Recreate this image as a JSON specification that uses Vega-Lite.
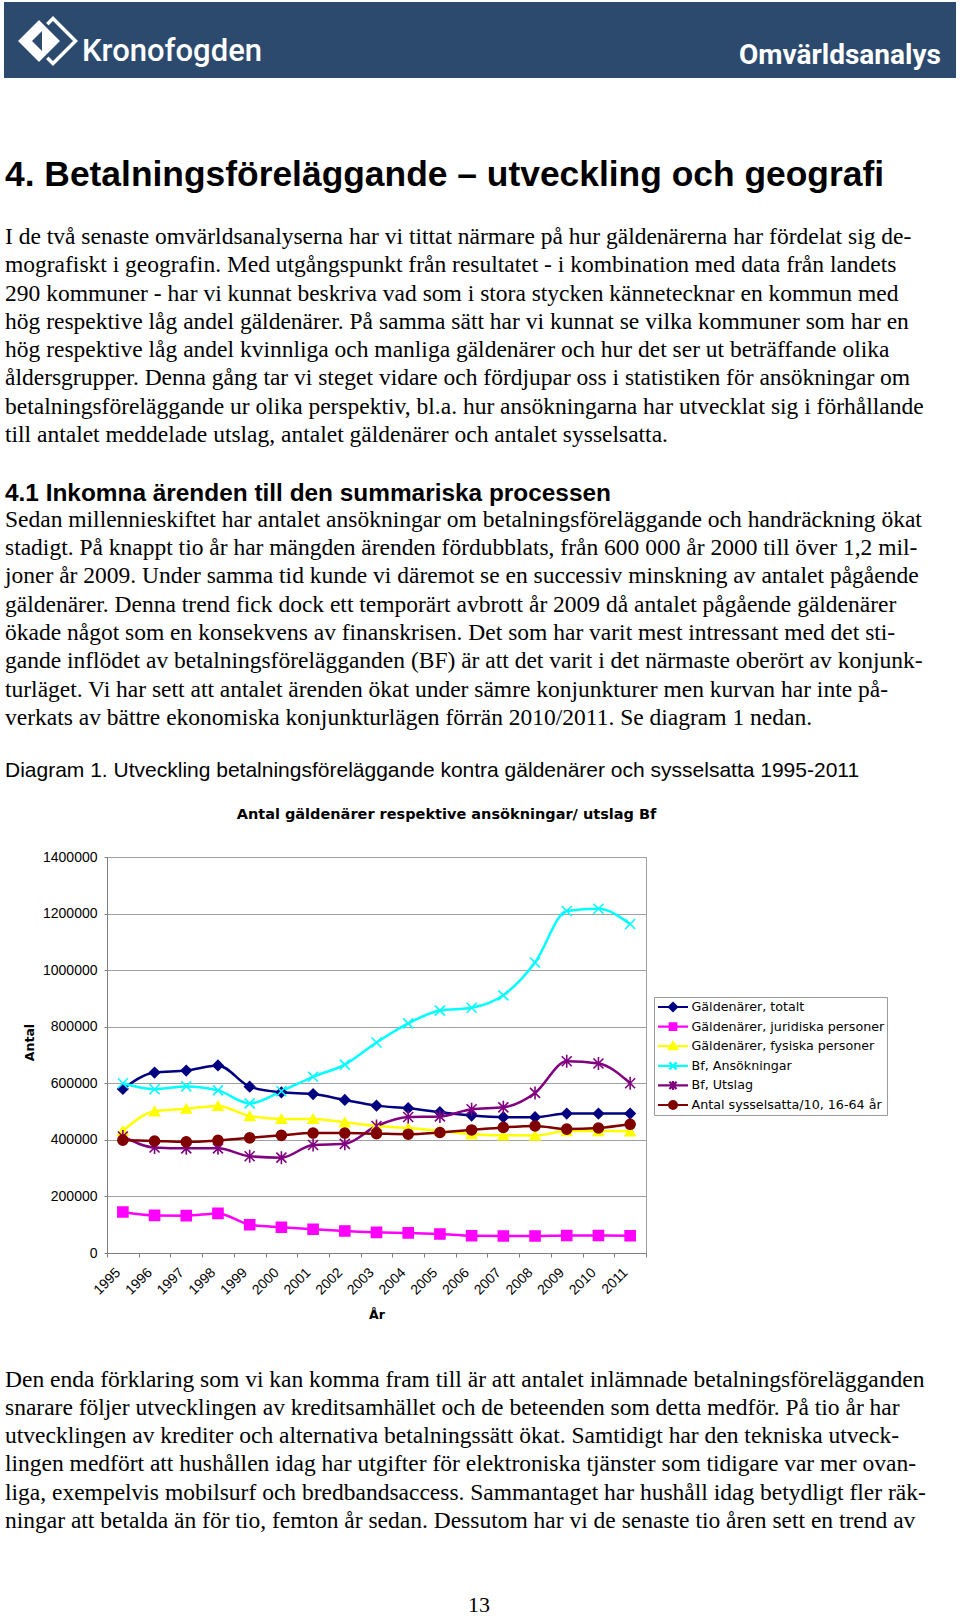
{
  "$schema": "https://vega.github.io/schema/vega-lite/v6.json",
  "background": "white",
  "padding": {"left": 4, "top": 2, "right": 0, "bottom": 0},
  "autosize": {"type": "pad"},
  "bounds": "full",
  "spacing": 0,
  "resolve": {"scale": {"color": "independent", "stroke": "independent", "shape": "independent"}},
  "config": {"view": {"stroke": null, "fill": "white"}, "font": "Liberation Sans"},
  "vconcat": [
    {
      "width": 952,
      "height": 76,
      "view": {"fill": "#2c4a6e", "stroke": null},
      "layer": [
        {
          "data": {"values": [{"part": "outline"}]},
          "mark": {"type": "point", "shape": "M0,-1L1,0L0,1L-1,0Z", "size": 2025, "filled": false, "stroke": "white", "strokeWidth": 3.5, "opacity": 1},
          "encoding": {"x": {"value": 49}, "y": {"value": 39}}
        },
        {
          "data": {"values": [{"part": "front"}]},
          "mark": {"type": "point", "shape": "M0,-1L1,0L0,1L-1,0Z", "size": 2116, "filled": true, "fill": "white", "stroke": "#2c4a6e", "strokeWidth": 3, "opacity": 1},
          "encoding": {"x": {"value": 35}, "y": {"value": 39}}
        },
        {
          "data": {"values": [{"part": "inner"}]},
          "mark": {"type": "point", "shape": "M-0.5,0L0.5,-1L0.5,1Z", "size": 400, "filled": true, "fill": "#2c4a6e", "opacity": 1},
          "encoding": {"x": {"value": 33}, "y": {"value": 39}}
        },
        {
          "data": {"values": [{"label": "Kronofogden"}]},
          "mark": {"type": "text", "font": "Roboto", "fontWeight": 500, "fontSize": 31, "fill": "white", "align": "left", "baseline": "middle"},
          "encoding": {"text": {"field": "label"}, "x": {"value": 78}, "y": {"value": 50}}
        },
        {
          "data": {"values": [{"label": "Omvärldsanalys"}]},
          "mark": {"type": "text", "font": "Roboto", "fontWeight": "bold", "fontSize": 28, "fill": "white", "align": "left", "baseline": "middle"},
          "encoding": {"text": {"field": "label"}, "x": {"value": 735}, "y": {"value": 54}}
        }
      ]
    },
    {
      "width": 952,
      "height": 727.5,
      "layer": [
        {
          "data": {"values": [{"line": -2, "text": "4. Betalningsföreläggande – utveckling och geografi"}]},
          "mark": {"type": "text", "font": "Liberation Sans", "fontWeight": "bold", "fontSize": 35.4, "fill": "#000", "align": "left", "baseline": "middle", "dy": -5},
          "encoding": {
            "text": {"field": "text"},
            "x": {"value": 1},
            "y": {"field": "line", "type": "quantitative", "scale": {"domain": [-5.621, 20.1], "reverse": true, "nice": false, "zero": false}, "axis": null}
          }
        },
        {
          "data": {"values": [
            {"line": 0, "text": "I de två senaste omvärldsanalyserna har vi tittat närmare på hur gäldenärerna har fördelat sig de-"},
            {"line": 1, "text": "mografiskt i geografin. Med utgångspunkt från resultatet -  i kombination med data från landets"},
            {"line": 2, "text": "290 kommuner - har vi kunnat beskriva vad som i stora stycken kännetecknar en kommun med"},
            {"line": 3, "text": "hög respektive låg andel gäldenärer. På samma sätt har vi kunnat se vilka kommuner som har en"},
            {"line": 4, "text": "hög respektive låg andel kvinnliga och manliga gäldenärer och hur det ser ut beträffande olika"},
            {"line": 5, "text": "åldersgrupper. Denna gång tar vi steget vidare och fördjupar oss i statistiken för ansökningar om"},
            {"line": 6, "text": "betalningsföreläggande ur olika perspektiv, bl.a. hur ansökningarna har utvecklat sig i förhållande"},
            {"line": 7, "text": "till antalet meddelade utslag, antalet gäldenärer och antalet sysselsatta."},
            {"line": 10, "text": "Sedan millennieskiftet har antalet ansökningar om betalningsföreläggande och handräckning ökat"},
            {"line": 11, "text": "stadigt. På knappt tio år har mängden ärenden fördubblats, från 600 000 år 2000 till över 1,2 mil-"},
            {"line": 12, "text": "joner år 2009. Under samma tid kunde vi däremot se en successiv minskning av antalet pågående"},
            {"line": 13, "text": "gäldenärer. Denna trend fick dock ett temporärt avbrott år 2009 då antalet pågående gäldenärer"},
            {"line": 14, "text": "ökade något som en konsekvens av finanskrisen. Det som har varit mest intressant med det sti-"},
            {"line": 15, "text": "gande inflödet av betalningsförelägganden (BF) är att det varit i det närmaste oberört av konjunk-"},
            {"line": 16, "text": "turläget. Vi har sett att antalet ärenden ökat under sämre konjunkturer men kurvan har inte på-"},
            {"line": 17, "text": "verkats av bättre ekonomiska konjunkturlägen förrän 2010/2011. Se diagram 1 nedan."}
          ]},
          "mark": {"type": "text", "font": "Liberation Serif", "fontSize": 23.5, "fill": "#000", "align": "left", "baseline": "middle"},
          "encoding": {
            "text": {"field": "text"},
            "x": {"value": 1},
            "y": {"field": "line", "type": "quantitative", "scale": {"domain": [-5.621, 20.1], "reverse": true, "nice": false, "zero": false}, "axis": null}
          }
        },
        {
          "data": {"values": [{"line": 9, "text": "4.1 Inkomna ärenden till den summariska processen"}]},
          "mark": {"type": "text", "font": "Liberation Sans", "fontWeight": "bold", "fontSize": 24.4, "fill": "#000", "align": "left", "baseline": "middle", "dy": 2},
          "encoding": {
            "text": {"field": "text"},
            "x": {"value": 1},
            "y": {"field": "line", "type": "quantitative", "scale": {"domain": [-5.621, 20.1], "reverse": true, "nice": false, "zero": false}, "axis": null}
          }
        },
        {
          "data": {"values": [{"line": 19, "text": "Diagram 1. Utveckling betalningsföreläggande kontra gäldenärer och sysselsatta 1995-2011"}]},
          "mark": {"type": "text", "font": "Liberation Sans", "fontSize": 21, "fill": "#000", "align": "left", "baseline": "middle", "dy": -3},
          "encoding": {
            "text": {"field": "text"},
            "x": {"value": 1},
            "y": {"field": "line", "type": "quantitative", "scale": {"domain": [-5.621, 20.1], "reverse": true, "nice": false, "zero": false}, "axis": null}
          }
        }
      ]
    },
    {
      "spacing": 0,
      "bounds": "flush",
      "resolve": {"scale": {"color": "independent", "stroke": "independent", "shape": "independent"}},
      "hconcat": [
        {
          "width": 103,
          "height": 396,
          "data": {"values": []},
          "mark": "point"
        },
        {
          "width": 539,
          "height": 396,
          "view": {"stroke": "#a0a0a0", "strokeWidth": 1, "fill": "white"},
          "title": {
            "text": "Antal gäldenärer respektive ansökningar/ utslag Bf",
            "font": "DejaVu Sans",
            "fontWeight": "bold",
            "fontSize": 14.5,
            "color": "#000",
            "anchor": "middle",
            "dx": 70,
            "offset": 28
          },
          "data": {"values": [
            {"year": "1995", "Gäldenärer, totalt": 580000, "Gäldenärer, juridiska personer": 145000, "Gäldenärer, fysiska personer": 432000, "Bf, Ansökningar": 600000, "Bf, Utslag": 412000, "Antal sysselsatta/10, 16-64 år": 399000},
            {"year": "1996", "Gäldenärer, totalt": 638000, "Gäldenärer, juridiska personer": 133000, "Gäldenärer, fysiska personer": 501000, "Bf, Ansökningar": 579000, "Bf, Utslag": 373000, "Antal sysselsatta/10, 16-64 år": 396000},
            {"year": "1997", "Gäldenärer, totalt": 645000, "Gäldenärer, juridiska personer": 132000, "Gäldenärer, fysiska personer": 510000, "Bf, Ansökningar": 589000, "Bf, Utslag": 370000, "Antal sysselsatta/10, 16-64 år": 393000},
            {"year": "1998", "Gäldenärer, totalt": 663000, "Gäldenärer, juridiska personer": 140000, "Gäldenärer, fysiska personer": 520000, "Bf, Ansökningar": 575000, "Bf, Utslag": 370000, "Antal sysselsatta/10, 16-64 år": 398000},
            {"year": "1999", "Gäldenärer, totalt": 588000, "Gäldenärer, juridiska personer": 100000, "Gäldenärer, fysiska personer": 484000, "Bf, Ansökningar": 529000, "Bf, Utslag": 342000, "Antal sysselsatta/10, 16-64 år": 407000},
            {"year": "2000", "Gäldenärer, totalt": 568000, "Gäldenärer, juridiska personer": 91000, "Gäldenärer, fysiska personer": 474000, "Bf, Ansökningar": 572000, "Bf, Utslag": 337000, "Antal sysselsatta/10, 16-64 år": 416000},
            {"year": "2001", "Gäldenärer, totalt": 562000, "Gäldenärer, juridiska personer": 84000, "Gäldenärer, fysiska personer": 474000, "Bf, Ansökningar": 623000, "Bf, Utslag": 382000, "Antal sysselsatta/10, 16-64 år": 424000},
            {"year": "2002", "Gäldenärer, totalt": 541000, "Gäldenärer, juridiska personer": 78000, "Gäldenärer, fysiska personer": 462000, "Bf, Ansökningar": 666000, "Bf, Utslag": 386000, "Antal sysselsatta/10, 16-64 år": 424000},
            {"year": "2003", "Gäldenärer, totalt": 521000, "Gäldenärer, juridiska personer": 73000, "Gäldenärer, fysiska personer": 449000, "Bf, Ansökningar": 744000, "Bf, Utslag": 449000, "Antal sysselsatta/10, 16-64 år": 422000},
            {"year": "2004", "Gäldenärer, totalt": 512000, "Gäldenärer, juridiska personer": 71000, "Gäldenärer, fysiska personer": 442000, "Bf, Ansökningar": 812000, "Bf, Utslag": 481000, "Antal sysselsatta/10, 16-64 år": 420000},
            {"year": "2005", "Gäldenärer, totalt": 498000, "Gäldenärer, juridiska personer": 67000, "Gäldenärer, fysiska personer": 432000, "Bf, Ansökningar": 857000, "Bf, Utslag": 483000, "Antal sysselsatta/10, 16-64 år": 426000},
            {"year": "2006", "Gäldenärer, totalt": 486000, "Gäldenärer, juridiska personer": 61000, "Gäldenärer, fysiska personer": 420000, "Bf, Ansökningar": 867000, "Bf, Utslag": 508000, "Antal sysselsatta/10, 16-64 år": 435000},
            {"year": "2007", "Gäldenärer, totalt": 480000, "Gäldenärer, juridiska personer": 60000, "Gäldenärer, fysiska personer": 416000, "Bf, Ansökningar": 911000, "Bf, Utslag": 515000, "Antal sysselsatta/10, 16-64 år": 444000},
            {"year": "2008", "Gäldenärer, totalt": 480000, "Gäldenärer, juridiska personer": 60000, "Gäldenärer, fysiska personer": 415000, "Bf, Ansökningar": 1027000, "Bf, Utslag": 566000, "Antal sysselsatta/10, 16-64 år": 449000},
            {"year": "2009", "Gäldenärer, totalt": 493000, "Gäldenärer, juridiska personer": 62000, "Gäldenärer, fysiska personer": 431000, "Bf, Ansökningar": 1209000, "Bf, Utslag": 678000, "Antal sysselsatta/10, 16-64 år": 438000},
            {"year": "2010", "Gäldenärer, totalt": 493000, "Gäldenärer, juridiska personer": 62000, "Gäldenärer, fysiska personer": 431000, "Bf, Ansökningar": 1217000, "Bf, Utslag": 670000, "Antal sysselsatta/10, 16-64 år": 442000},
            {"year": "2011", "Gäldenärer, totalt": 493000, "Gäldenärer, juridiska personer": 61000, "Gäldenärer, fysiska personer": 430000, "Bf, Ansökningar": 1163000, "Bf, Utslag": 600000, "Antal sysselsatta/10, 16-64 år": 455000}
          ]},
          "transform": [
            {"fold": ["Gäldenärer, totalt", "Gäldenärer, juridiska personer", "Gäldenärer, fysiska personer", "Bf, Ansökningar", "Bf, Utslag", "Antal sysselsatta/10, 16-64 år"], "as": ["series", "value"]}
          ],
          "encoding": {
            "x": {
              "field": "year",
              "type": "ordinal",
              "scale": {"type": "band", "paddingInner": 0, "paddingOuter": 0},
              "axis": {
                "title": "År",
                "labelAngle": -45,
                "labelAlign": "right",
                "labelBaseline": "bottom",
                "tickBand": "extent",
                "ticks": true,
                "tickSize": 4,
                "tickColor": "#808080",
                "domainColor": "#808080",
                "grid": false,
                "labelFont": "Liberation Sans",
                "labelFontSize": 14,
                "labelColor": "#000",
                "labelPadding": 18,
                "titleFont": "DejaVu Sans",
                "titleFontWeight": "bold",
                "titleFontSize": 12.5,
                "titleColor": "#000",
                "titlePadding": 11
              }
            },
            "y": {
              "field": "value",
              "type": "quantitative",
              "scale": {"domain": [0, 1400000], "nice": false},
              "axis": {
                "title": "Antal",
                "values": [0, 200000, 400000, 600000, 800000, 1000000, 1200000, 1400000],
                "format": "d",
                "grid": true,
                "gridColor": "#a0a0a0",
                "tickSize": 3,
                "tickColor": "#808080",
                "domainColor": "#808080",
                "labelFont": "Liberation Sans",
                "labelFontSize": 14,
                "labelColor": "#000",
                "labelPadding": 7,
                "titleFont": "DejaVu Sans",
                "titleFontWeight": "bold",
                "titleFontSize": 12.5,
                "titleColor": "#000",
                "titlePadding": 6,
                "titleY": 185
              }
            }
          },
          "layer": [
            {
              "mark": {"type": "line", "strokeWidth": 2.5, "interpolate": "monotone"},
              "encoding": {
                "stroke": {
                  "field": "series",
                  "type": "nominal",
                  "scale": {
                    "domain": ["Antal sysselsatta/10, 16-64 år", "Bf, Utslag", "Bf, Ansökningar", "Gäldenärer, fysiska personer", "Gäldenärer, juridiska personer", "Gäldenärer, totalt"],
                    "range": ["#800000", "#800080", "#00ffff", "#ffff00", "#ff00ff", "#000080"]
                  },
                  "legend": null
                }
              }
            },
            {
              "mark": {"type": "point", "filled": true, "opacity": 1, "size": 100, "strokeWidth": 1.6},
              "encoding": {
                "color": {
                  "field": "series",
                  "type": "nominal",
                  "scale": {
                    "domain": ["Gäldenärer, totalt", "Gäldenärer, juridiska personer", "Gäldenärer, fysiska personer", "Bf, Ansökningar", "Bf, Utslag", "Antal sysselsatta/10, 16-64 år"],
                    "range": ["#000080", "#ff00ff", "#ffff00", "#00ffff", "#800080", "#800000"]
                  },
                  "legend": {
                    "title": null,
                    "orient": "none",
                    "legendX": 547,
                    "legendY": 140,
                    "direction": "vertical",
                    "labelFont": "DejaVu Sans",
                    "labelFontSize": 12.7,
                    "labelColor": "#000",
                    "labelLimit": 400,
                    "labelOffset": 2,
                    "strokeColor": "#9a9a9a",
                    "fillColor": "white",
                    "padding": 2.5,
                    "rowPadding": 4.6,
                    "clipHeight": 15,
                    "symbolSize": 900,
                    "encoding": {
                      "symbols": {
                        "shape": {"value": {"expr": "datum.value==='Gäldenärer, totalt'?'M-1,0H1M0,-0.27L0.27,0L0,0.27L-0.27,0Z':datum.value==='Gäldenärer, juridiska personer'?'M-1,0H1M-0.22,-0.22H0.22V0.22H-0.22Z':datum.value==='Gäldenärer, fysiska personer'?'M-1,0H1M0,-0.27L0.27,0.2H-0.27Z':datum.value==='Bf, Ansökningar'?'M-1,0H1M-0.24,-0.24L0.24,0.24M-0.24,0.24L0.24,-0.24':datum.value==='Bf, Utslag'?'M-1,0H1M-0.24,-0.24L0.24,0.24M-0.24,0.24L0.24,-0.24M0,-0.3V0.3':'M-1,0H1M0.26,0A0.26,0.26,0,1,1,-0.26,0A0.26,0.26,0,1,1,0.26,0Z'"}},
                        "stroke": {"value": {"expr": "datum.value==='Gäldenärer, totalt'?'#000080':datum.value==='Gäldenärer, juridiska personer'?'#ff00ff':datum.value==='Gäldenärer, fysiska personer'?'#ffff00':datum.value==='Bf, Ansökningar'?'#00ffff':datum.value==='Bf, Utslag'?'#800080':'#800000'"}},
                        "strokeWidth": {"value": 2.2},
                        "opacity": {"value": 1},
                        "size": {"value": 900}
                      }
                    }
                  }
                },
                "stroke": {
                  "field": "series",
                  "type": "nominal",
                  "scale": {
                    "domain": ["Antal sysselsatta/10, 16-64 år", "Bf, Utslag", "Bf, Ansökningar", "Gäldenärer, fysiska personer", "Gäldenärer, juridiska personer", "Gäldenärer, totalt"],
                    "range": ["#800000", "#800080", "#00ffff", "#ffff00", "#ff00ff", "#000080"]
                  },
                  "legend": null
                },
                "shape": {
                  "field": "series",
                  "type": "nominal",
                  "scale": {
                    "domain": ["Bf, Ansökningar", "Bf, Utslag", "Antal sysselsatta/10, 16-64 år", "Gäldenärer, totalt", "Gäldenärer, juridiska personer", "Gäldenärer, fysiska personer"],
                    "range": ["M-1,-1L1,1M-1,1L1,-1", "M-1,-1L1,1M-1,1L1,-1M0,-1.3V1.3", "circle", "diamond", "square", "triangle-up"]
                  },
                  "legend": null
                }
              }
            }
          ]
        }
      ]
    },
    {
      "width": 952,
      "height": 298,
      "layer": [
        {
          "data": {"values": [
            {"line": 0, "text": "Den enda förklaring som vi kan komma fram till är att antalet inlämnade betalningsförelägganden"},
            {"line": 1, "text": "snarare följer utvecklingen av kreditsamhället och de beteenden som detta medför. På tio år har"},
            {"line": 2, "text": "utvecklingen av krediter och alternativa betalningssätt ökat. Samtidigt har den tekniska utveck-"},
            {"line": 3, "text": "lingen medfört att hushållen idag har utgifter för elektroniska tjänster som tidigare var mer ovan-"},
            {"line": 4, "text": "liga, exempelvis mobilsurf och bredbandsaccess. Sammantaget har hushåll idag betydligt fler räk-"},
            {"line": 5, "text": "ningar att betalda än för tio, femton år sedan. Dessutom har vi de senaste tio åren sett en trend av"}
          ]},
          "mark": {"type": "text", "font": "Liberation Serif", "fontSize": 23.5, "fill": "#000", "align": "left", "baseline": "middle"},
          "encoding": {
            "text": {"field": "text"},
            "x": {"value": 1},
            "y": {"field": "line", "type": "quantitative", "scale": {"domain": [-2.039, 8.51], "reverse": true, "nice": false, "zero": false}, "axis": null}
          }
        },
        {
          "data": {"values": [{"line": 8, "text": "13"}]},
          "mark": {"type": "text", "font": "Liberation Serif", "fontSize": 22, "fill": "#000", "align": "center", "baseline": "middle", "dy": -1},
          "encoding": {
            "text": {"field": "text"},
            "x": {"value": 475},
            "y": {"field": "line", "type": "quantitative", "scale": {"domain": [-2.039, 8.51], "reverse": true, "nice": false, "zero": false}, "axis": null}
          }
        }
      ]
    }
  ]
}
